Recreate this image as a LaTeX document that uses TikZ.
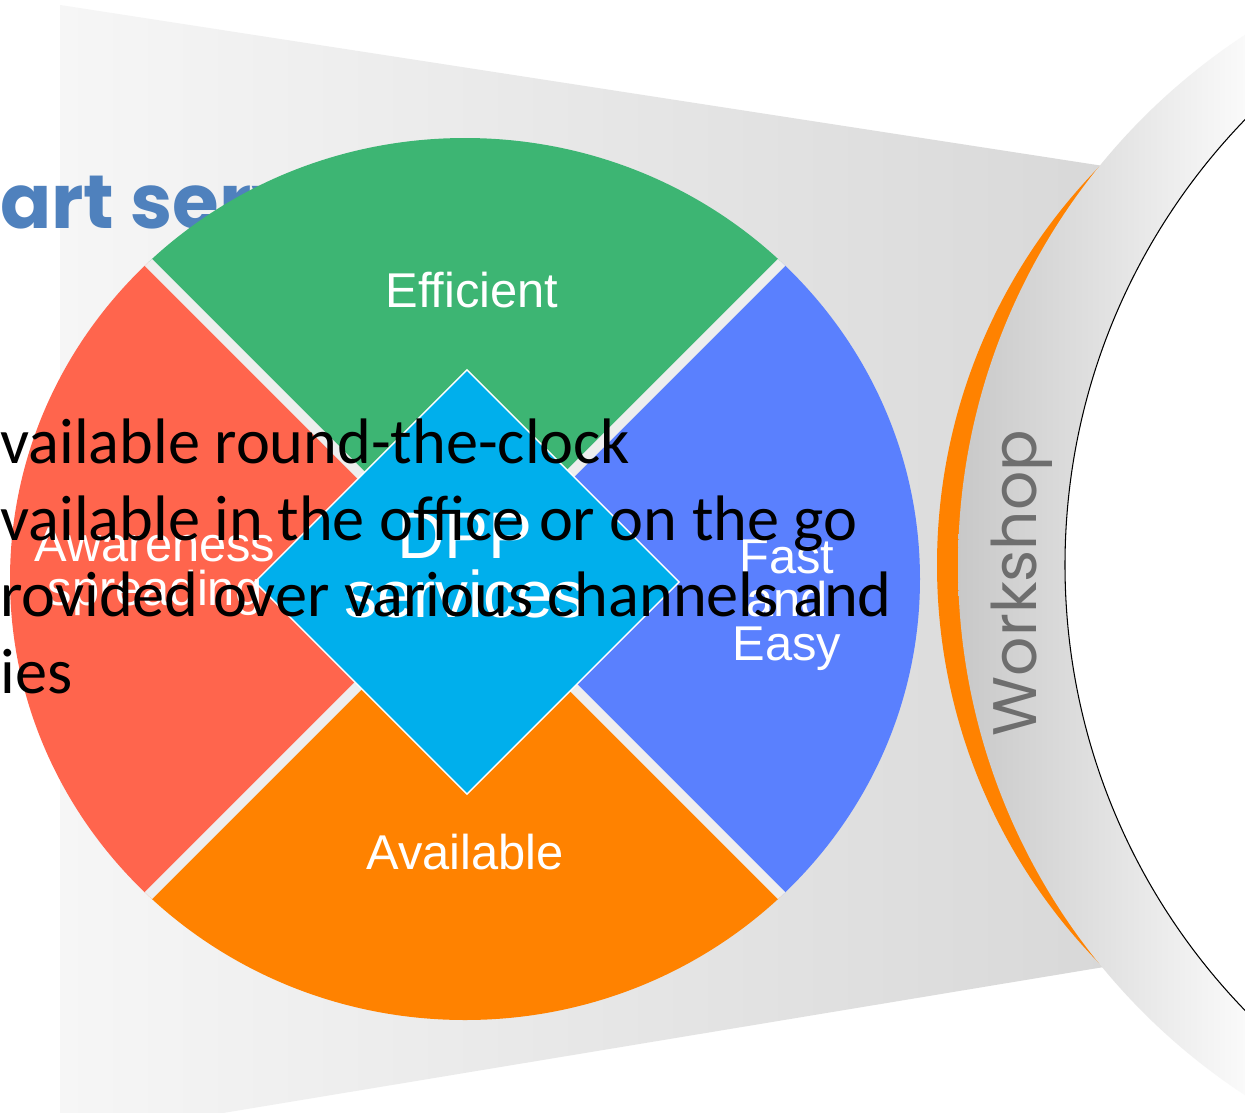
\documentclass[tikz,border=0pt]{standalone}
\usepackage{fontspec}
\usepackage{xcolor}
\usetikzlibrary{shapes.geometric}
\newfontfamily\labelfont{Liberation Sans}
\newfontfamily\bodyfont{Carlito}
\newfontfamily\titlefont{Poppins}
\definecolor{secred}{HTML}{FF654D}
\definecolor{secgreen}{HTML}{3DB573}
\definecolor{secblue}{HTML}{5A80FE}
\definecolor{secorange}{HTML}{FF8200}
\definecolor{dppcyan}{HTML}{00AFEC}
\definecolor{titleblue}{HTML}{4F81BD}
\definecolor{gapgrey}{HTML}{EEEEEE}
\definecolor{funlight}{HTML}{F6F6F6}
\definecolor{fundark}{HTML}{D8D8D8}
\definecolor{ringdark}{HTML}{C8C8C8}
\definecolor{ringlight}{HTML}{FAFAFA}
\definecolor{shopgrey}{HTML}{6E6E6E}

\begin{document}
\begin{tikzpicture}[x=0.02cm, y=-0.02cm,
    seclabel/.style={text=white, align=center, inner sep=0pt,
	font=\labelfont\fontsize{27.8}{24.8}\selectfont},
    bullet/.style={anchor=base west, inner sep=0pt,
	font=\bodyfont\fontsize{36.6}{43.6}\selectfont}]
    \useasboundingbox (0,0) rectangle (1245,1113);
    \clip (0,0) rectangle (1245,1113);
    \fill [white] (0,0) rectangle (1245,1113);
    \shade [left color=funlight, right color=fundark] (60,5) -- (1110,167)
	-- (1110,966) -- (60,1140) -- cycle;
    \path (0,228) node [anchor=base west, inner sep=0pt, text=titleblue,
	font=\titlefont\bfseries\fontsize{43}{50}\selectfont] (title) {art services};

    \coordinate (c) at (465,579);
    \begin{scope}
	\clip (c) ellipse [x radius=455, y radius=441];
	\fill [secgreen] (c) -- ++(-600,-600) -- ++(1200,0) -- cycle;
	\fill [secblue] (c) -- ++(600,-600) -- ++(0,1200) -- cycle;
	\fill [secorange] (c) -- ++(600,600) -- ++(-1200,0) -- cycle;
	\fill [secred] (c) -- ++(-600,600) -- ++(0,-1200) -- cycle;
	\draw [gapgrey, line width=0.2cm] (c) ++(-600,-600) -- ++(1200,1200);
	\draw [gapgrey, line width=0.2cm] (c) ++(600,-600) -- ++(-1200,1200);
    \end{scope}
    \path (467,582) node [diamond, aspect=1, minimum width=8.5cm,
	minimum height=8.5cm, inner sep=0pt, fill=dppcyan, draw=white,
	line width=0.8pt] (dpp) {};
    \path (465,566) node [seclabel,
	font=\labelfont\fontsize{37.5}{33.5}\selectfont] (dpptext) {DPP\\services};
    \path (472,290) node [seclabel] (eff) {Efficient};
    \path (465,852) node [seclabel] (avail) {Available};
    \path (787,605) node [seclabel] (fast) {Fast\\and\\Easy};
    \path (155,572) node [seclabel] (aware) {Awareness\\spreading};

    \fill [secorange] (1507,565) circle [radius=570];
    \begin{scope}
	\clip (1591,565) circle [radius=633];
	\shade [left color=ringdark, right color=ringlight] (958,0) rectangle (1245,1113);
    \end{scope}
    \filldraw [fill=white, draw=black, line width=0.6pt] (1706,565) circle [radius=641];
    \path (1022,583) node [rotate=90, text=shopgrey,
	font=\titlefont\fontsize{35}{40}\selectfont] (shop) {Workshop};

    \path (0,463) node [bullet] (b1) {vailable round-the-clock};
    \path (0,540) node [bullet] (b2) {vailable in the office or on the go};
    \path (0,616) node [bullet] (b3) {rovided over various channels and};
    \path (0,693) node [bullet] (b4) {ies};
\end{tikzpicture}
\end{document}
